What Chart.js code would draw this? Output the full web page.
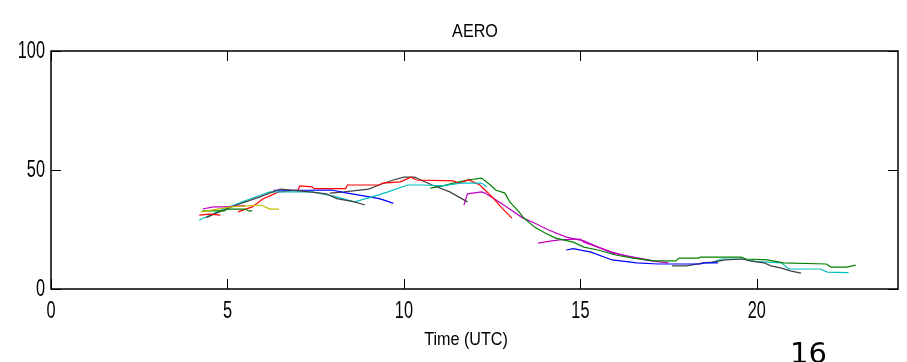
<!DOCTYPE html>
<html>
<head>
<meta charset="utf-8">
<script src="https://cdn.jsdelivr.net/npm/chart.js@4"></script>
<style>
  html, body { margin: 0; padding: 0; background: #fff; overflow: hidden; }
  #wrap { position: relative; width: 907px; height: 362px; overflow: hidden; }
  #note { position: absolute; left: 790px; top: 339px; font: 29px/29px "DejaVu Sans"; color: #000; }
</style>
</head>
<body>
<div id="wrap">
  <canvas id="aeroChart" width="907" height="362"></canvas>
  <div id="note">16</div>
</div>
<script>
// axis settings
const xTicks = [0, 5, 10, 15, 20];
const yTicks = [0, 50, 100];
const chartTitle = 'AERO';
const xTitle = 'Time (UTC)';

// morning tracks
const redAmX = [4.2, 4.5, 4.8];
const redAmY = [31, 31.5, 31];
const redX = [5.3, 5.7, 6.0, 6.45, 7.0, 7.05, 7.4, 7.45, 8.35, 8.4, 9.3, 9.4, 9.9, 10.2, 10.35, 11.4, 11.55, 11.85, 12.15, 12.5, 12.78, 13.06];
const redY = [32.4, 34.5, 37.8, 40.8, 41.6, 43.3, 42.9, 42.2, 42.2, 43.7, 43.7, 44.5, 45, 47, 45.8, 45.4, 44.5, 45.8, 43.7, 38.7, 34, 29.8];
const blueAmX = [6.3, 7.1, 7.95, 8.4, 8.9, 9.3, 9.5, 9.7];
const blueAmY = [41.5, 41.5, 41.6, 40.3, 39, 38, 37, 36];
const blackAmX = [4.4, 4.7, 5.2, 5.9, 6.5, 7.4, 7.8, 8.1, 8.6, 8.9];
const blackAmY = [30, 32, 35, 38.6, 42, 40.7, 40, 38, 36.6, 35.3];
const black2X = [7.9, 8.3, 9.0, 9.35, 9.7, 10.0, 10.3, 10.8, 11.3, 11.8];
const black2Y = [40.3, 40.8, 42, 44, 45.8, 47, 47, 43.7, 40.8, 36.6];
const cyanAmX = [4.2, 4.8, 5.4, 5.95, 6.2, 7.4, 8.0, 8.6, 9.1, 9.55, 10.1, 10.6, 11.1, 11.6, 12.2, 12.35];
const cyanAmY = [29, 33, 36.5, 39.5, 40.8, 40.8, 39, 36.6, 38.7, 40.8, 43.7, 43.7, 43.3, 44.5, 44.5, 43];
const magentaAmX = [4.3, 4.6, 4.9, 5.5];
const magentaAmY = [33.6, 34.5, 34.5, 35];
const greenAmX = [4.3, 4.9, 5.0, 5.5, 5.6, 5.7];
const greenAmY = [32.8, 32.8, 33.6, 33.6, 32.8, 32.8];
const yellowX = [4.25, 5.1, 5.95, 6.2, 6.46];
const yellowY = [32.4, 34.5, 35.3, 33.6, 33.6];

// afternoon tracks
const magenta1X = [11.7, 11.8, 12.2, 12.3, 12.7, 13.06, 13.35, 13.7, 14.1, 14.6, 15.1, 15.5, 15.9, 16.2, 17.0];
const magenta1Y = [35.3, 40, 40.8, 40.3, 36.6, 33, 30, 27.7, 24.8, 21.8, 20.2, 17.6, 15.1, 14.3, 12];
const magenta2X = [13.8, 14.1, 14.4, 15.0, 15.1, 15.5, 15.9, 16.4, 17.0, 17.5];
const magenta2Y = [19.3, 20, 20.6, 21, 19.7, 17.6, 15.5, 13.4, 11.8, 11];
const greenX = [10.75, 11.1, 11.4, 11.8, 12.2, 12.45, 12.6, 12.86, 13.0, 13.26, 13.4, 13.7, 14.0, 14.3, 14.8, 15.1, 15.5, 16.0, 16.5, 17.1, 17.7, 17.8, 18.35, 18.4, 19.55, 19.7, 20.3, 20.75, 21.97, 22.1, 22.55, 22.8];
const greenY = [42.4, 43.3, 44.5, 45.8, 46.6, 43.7, 41.6, 40.3, 36.6, 32.4, 29.8, 26, 23.5, 21.4, 19.7, 17.6, 16.4, 14.3, 13, 11.8, 11.8, 13, 13, 13.4, 13.4, 12.6, 12.2, 11, 10.5, 9.2, 9.2, 10];
const bluePmX = [14.6, 14.8, 15.3, 15.9, 16.6, 17.2, 18.4, 18.5, 18.9];
const bluePmY = [16.4, 17, 15.5, 12.2, 11, 10.5, 10.5, 11, 11];
const blackPmX = [17.6, 18.0, 18.5, 18.75, 19.1, 19.6, 19.8, 20.0, 20.2, 20.4, 20.7, 20.95, 21.25];
const blackPmY = [9.7, 9.7, 11, 11.3, 12.2, 12.6, 11.8, 11.4, 11, 9.7, 8.8, 7.6, 6.7];
const cyanPmX = [18.7, 19.0, 19.6, 20.0, 20.7, 20.9, 21.8, 22.0, 22.6];
const cyanPmY = [11, 12.6, 12.6, 11.5, 11, 8.4, 8.4, 7.1, 6.9];

const tracks = [
    [yellowX, yellowY, '#bfbf00'],
    [greenAmX, greenAmY, '#008000'],
    [magentaAmX, magentaAmY, '#bf00bf'],
    [redAmX, redAmY, '#ff0000'],
    [blackAmX, blackAmY, '#404040'],
    [cyanAmX, cyanAmY, '#00bfbf'],
    [blueAmX, blueAmY, '#0000ff'],
    [redX, redY, '#ff0000'],
    [black2X, black2Y, '#404040'],
    [greenX, greenY, '#008000'],
    [magenta1X, magenta1Y, '#bf00bf'],
    [magenta2X, magenta2Y, '#bf00bf'],
    [bluePmX, bluePmY, '#0000ff'],
    [blackPmX, blackPmY, '#404040'],
    [cyanPmX, cyanPmY, '#00bfbf']
];

// narrow text like the matlab export (squeezed horizontally)
function narrowText(ctx, text, x, y, size, sx, align) {
    ctx.save();
    ctx.font = size + 'px "Liberation Sans", Arial, sans-serif';
    ctx.fillStyle = '#000';
    ctx.textAlign = align;
    ctx.textBaseline = 'middle';
    ctx.translate(x, y);
    ctx.scale(sx, 1);
    ctx.fillText(text, 0, 0);
    ctx.restore();
}

// box round the plot with inward ticks and labels, matlab style
const boxPlugin = {
    id: 'box',
    afterDraw(chart) {
        const { ctx, chartArea: a, scales } = chart;
        ctx.save();
        ctx.strokeStyle = '#000';
        ctx.lineWidth = 1.5;
        ctx.strokeRect(a.left, a.top, a.width, a.height);
        ctx.lineWidth = 1;
        ctx.beginPath();
        scales.x.ticks.forEach(t => {
            const px = Math.round(scales.x.getPixelForValue(t.value)) + 0.5;
            ctx.moveTo(px, a.bottom); ctx.lineTo(px, a.bottom - 10);
            ctx.moveTo(px, a.top); ctx.lineTo(px, a.top + 10);
        });
        scales.y.ticks.forEach(t => {
            const py = Math.round(scales.y.getPixelForValue(t.value)) + 0.5;
            ctx.moveTo(a.left, py); ctx.lineTo(a.left + 10, py);
            ctx.moveTo(a.right, py); ctx.lineTo(a.right - 10, py);
        });
        ctx.stroke();
        ctx.restore();

        scales.x.ticks.forEach(t => {
            narrowText(ctx, String(t.value), scales.x.getPixelForValue(t.value), a.bottom + 22, 24, 0.68, 'center');
        });
        scales.y.ticks.forEach(t => {
            narrowText(ctx, String(t.value), a.left - 6, scales.y.getPixelForValue(t.value), 24, 0.68, 'right');
        });
        narrowText(ctx, chartTitle, 475, 32, 19, 0.85, 'center');
        narrowText(ctx, xTitle, 466, 340, 19, 0.85, 'center');
    }
};

new Chart(document.getElementById('aeroChart'), {
    type: 'line',
    data: {
        datasets: tracks.map(([xs, ys, color]) => ({
            data: xs.map((x, i) => ({ x: x, y: ys[i] })),
            borderColor: color,
            borderWidth: 1.2,
            pointRadius: 0,
            fill: false,
            tension: 0
        }))
    },
    options: {
        responsive: false,
        animation: false,
        layout: { padding: { left: 0, right: 9, top: 51, bottom: 0 } },
        plugins: {
            legend: { display: false },
            tooltip: { enabled: false },
            title: { display: false }
        },
        scales: {
            x: {
                type: 'linear',
                min: 0,
                max: 24,
                afterBuildTicks: s => { s.ticks = xTicks.map(v => ({ value: v })); },
                afterFit: s => { s.height = 73; },
                grid: { display: false, drawTicks: false },
                border: { display: false },
                ticks: { display: false }
            },
            y: {
                min: 0,
                max: 100,
                afterBuildTicks: s => { s.ticks = yTicks.map(v => ({ value: v })); },
                afterFit: s => { s.width = 51; },
                grid: { display: false, drawTicks: false },
                border: { display: false },
                ticks: { display: false }
            }
        }
    },
    plugins: [boxPlugin]
});
</script>
</body>
</html>
